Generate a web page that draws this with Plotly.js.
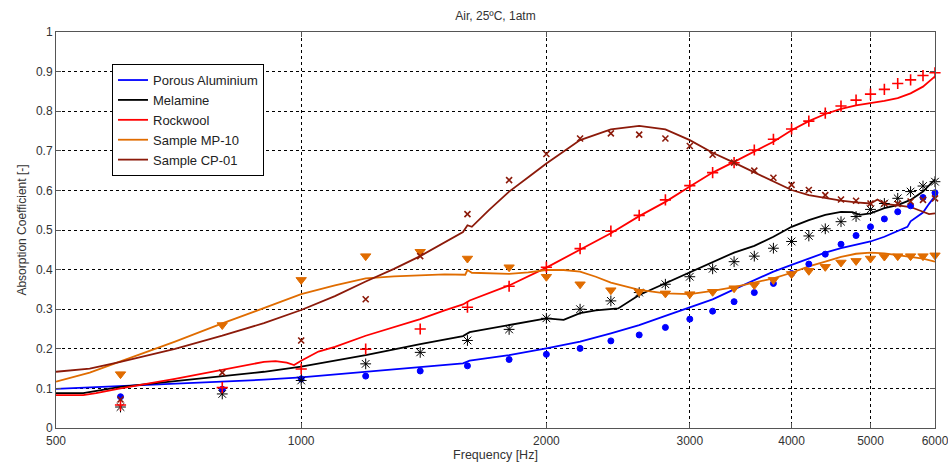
<!DOCTYPE html>
<html>
<head>
<meta charset="utf-8">
<script src="https://cdn.plot.ly/plotly-3.0.1.min.js"></script>
<style>html,body{margin:0;padding:0;background:#fff;}#chart{width:948px;height:464px;}</style>
</head>
<body>
<div id="chart"></div>
<script>
// Measured frequencies (markers)
const measFreq = [600,800,1000,1200,1400,1600,1800,2000,2200,2400,2600,2800,3000,3200,3400,3600,3800,4000,4200,4400,4600,4800,5000,5200,5400,5600,5800,6000];
const measAluminium = [0.079,0.098,0.124,0.131,0.144,0.157,0.173,0.186,0.201,0.220,0.235,0.254,0.275,0.295,0.319,0.342,0.365,0.390,0.414,0.439,0.464,0.486,0.508,0.528,0.546,0.561,0.582,0.594];
const measMelamine = [0.053,0.086,0.120,0.162,0.191,0.221,0.249,0.277,0.300,0.321,0.342,0.363,0.382,0.402,0.420,0.434,0.454,0.471,0.485,0.503,0.521,0.534,0.552,0.567,0.580,0.597,0.611,0.622];
const measRockwool = [0.058,0.102,0.149,0.199,0.250,0.305,0.358,0.406,0.453,0.497,0.537,0.576,0.612,0.645,0.670,0.702,0.729,0.755,0.775,0.795,0.813,0.828,0.843,0.855,0.870,0.879,0.890,0.897];
const measMP10 = [0.136,0.260,0.374,0.434,0.445,0.428,0.406,0.382,0.363,0.348,0.344,0.340,0.338,0.344,0.353,0.361,0.374,0.389,0.397,0.407,0.418,0.422,0.428,0.433,0.434,0.434,0.434,0.436];
const measCP01 = [0.072,0.140,0.221,0.325,0.434,0.540,0.626,0.692,0.731,0.744,0.741,0.731,0.712,0.690,0.670,0.650,0.632,0.614,0.601,0.588,0.577,0.574,0.567,0.567,0.566,0.572,0.576,0.580];

// Simulated curves (lines)
const simAlFreq = [500,600,700,800,900,1000,1200,1400,1580,1610,1800,2000,2200,2400,2600,2800,3000,3200,3400,3600,3800,4000,4200,4400,4600,4800,5000,5200,5400,5550,5600,5800,5900,6000];
const simAl = [0.099,0.106,0.112,0.117,0.122,0.128,0.142,0.155,0.163,0.170,0.184,0.201,0.218,0.239,0.260,0.283,0.305,0.325,0.350,0.374,0.395,0.412,0.428,0.443,0.454,0.462,0.471,0.483,0.498,0.508,0.522,0.544,0.566,0.586];

const simMelFreq = [500,540,600,700,800,900,1000,1200,1400,1580,1610,1800,2000,2100,2200,2300,2450,2600,2800,3000,3200,3400,3600,3800,4000,4200,4400,4600,4750,4850,5000,5200,5400,5600,5800,6000];
const simMel = [0.088,0.088,0.104,0.118,0.130,0.142,0.155,0.184,0.212,0.232,0.242,0.260,0.277,0.273,0.290,0.297,0.302,0.336,0.365,0.393,0.418,0.443,0.460,0.483,0.508,0.525,0.538,0.546,0.545,0.538,0.542,0.555,0.563,0.576,0.597,0.628];

const simRockFreq = [500,540,560,600,700,800,900,930,960,980,1000,1050,1100,1200,1400,1500,1580,1610,1800,2000,2200,2400,2600,2800,3000,3200,3400,3600,3800,4000,4200,4400,4600,4800,5000,5200,5400,5600,5800,6000];
const simRock = [0.083,0.083,0.088,0.100,0.124,0.146,0.167,0.169,0.165,0.159,0.170,0.193,0.205,0.233,0.275,0.297,0.312,0.322,0.360,0.405,0.450,0.492,0.535,0.571,0.610,0.645,0.672,0.698,0.723,0.752,0.775,0.793,0.806,0.815,0.820,0.826,0.833,0.845,0.862,0.888];

const simMPFreq = [500,550,600,700,800,900,1000,1100,1200,1300,1400,1500,1590,1600,1620,1800,1900,2000,2100,2200,2300,2400,2600,2800,3000,3200,3400,3600,3800,4000,4200,4400,4600,4800,5000,5200,5400,5600,5800,6000];
const simMP = [0.117,0.140,0.168,0.218,0.264,0.303,0.338,0.360,0.378,0.383,0.386,0.388,0.387,0.399,0.392,0.389,0.393,0.399,0.399,0.395,0.382,0.367,0.349,0.340,0.338,0.346,0.356,0.367,0.378,0.392,0.408,0.420,0.432,0.440,0.443,0.441,0.437,0.433,0.428,0.420];

const simCPFreq = [500,550,600,700,800,900,1000,1100,1200,1300,1400,1500,1580,1600,1620,1700,1800,1900,2000,2200,2400,2600,2800,3000,3200,3400,3600,3800,4000,4200,4400,4600,4800,5000,5100,5200,5400,5600,5800,5900,6000];
const simCP = [0.142,0.150,0.167,0.200,0.233,0.265,0.298,0.333,0.370,0.402,0.434,0.468,0.495,0.512,0.508,0.550,0.597,0.633,0.668,0.727,0.754,0.763,0.754,0.727,0.695,0.670,0.645,0.622,0.601,0.588,0.580,0.574,0.570,0.567,0.577,0.566,0.562,0.558,0.546,0.540,0.542];

const names = ['Porous Aluminium','Melamine','Rockwool','Sample MP-10','Sample CP-01'];
const colors = ['#0000FF','#000000','#FF0000','#E06C00','#8C1A0A'];
const simX = [simAlFreq, simMelFreq, simRockFreq, simMPFreq, simCPFreq];
const simY = [simAl, simMel, simRock, simMP, simCP];
const measY = [measAluminium, measMelamine, measRockwool, measMP10, measCP01];
const symbols = ['circle','asterisk-open','cross-thin-open','triangle-down','x-thin-open'];
const sizes = [6,9,8,9,6];
const mlw = [1,1,1.6,1,1.6];

const traces = [];
for (let i = 0; i < 5; i++) {
  traces.push({
    x: simX[i], y: simY[i], type: 'scatter', mode: 'lines', name: names[i],
    line: {color: colors[i], width: 1.8}, showlegend: true
  });
}
for (let i = 0; i < 5; i++) {
  traces.push({
    x: measFreq, y: measY[i], type: 'scatter', mode: 'markers', name: names[i] + ' (meas.)',
    showlegend: false, cliponaxis: false,
    marker: {symbol: symbols[i], size: sizes[i], color: colors[i], line: {color: colors[i], width: mlw[i]}}
  });
}

const font = {family: 'Liberation Sans, Arial, sans-serif', size: 12, color: '#333'};
const layout = {
  width: 948, height: 464,
  margin: {l: 56, r: 13, t: 32, b: 36},
  paper_bgcolor: '#fff', plot_bgcolor: '#fff',
  font: font,
  title: {text: 'Air, 25ºC, 1atm', font: {family: font.family, size: 12, color: '#333'}, x: 0.5, xref: 'paper', y: 1 - 16/464, yref: 'container', yanchor: 'middle'},
  xaxis: {
    type: 'log', range: [Math.log10(500) - 1e-5, Math.log10(6000) + 1e-5],
    tickvals: [500,1000,2000,3000,4000,5000,6000], ticktext: ['500','1000','2000','3000','4000','5000','6000'],
    showgrid: true, gridcolor: '#000', gridwidth: 1, griddash: '3px,3px',
    showline: true, linecolor: '#555', linewidth: 1, mirror: 'ticks',
    ticks: 'inside', ticklen: 5, tickcolor: '#555', zeroline: false,
    tickfont: font, ticklabelstandoff: 2, ticklabeloverflow: 'allow',
    title: {text: 'Frequency [Hz]', font: {family: font.family, size: 12.5, color: '#333'}, standoff: 2}
  },
  yaxis: {
    range: [0, 1],
    tickvals: [0,0.1,0.2,0.3,0.4,0.5,0.6,0.7,0.8,0.9,1], ticktext: ['0','0.1','0.2','0.3','0.4','0.5','0.6','0.7','0.8','0.9','1'],
    showgrid: true, gridcolor: '#000', gridwidth: 1, griddash: '3px,3px',
    showline: true, linecolor: '#555', linewidth: 1, mirror: 'ticks',
    ticks: 'inside', ticklen: 5, tickcolor: '#555', zeroline: false,
    tickfont: font,
    title: {text: 'Absorption Coefficient [-]', font: font, standoff: 6}
  },
  legend: {
    x: 0.0637, y: 0.919, xanchor: 'left', yanchor: 'top',
    bgcolor: '#fff', bordercolor: '#000', borderwidth: 1,
    font: {family: font.family, size: 13, color: '#222'},
    tracegroupgap: 0
  }
};

Plotly.newPlot('chart', traces, layout, {displayModeBar: false, staticPlot: true});
</script>
</body>
</html>
